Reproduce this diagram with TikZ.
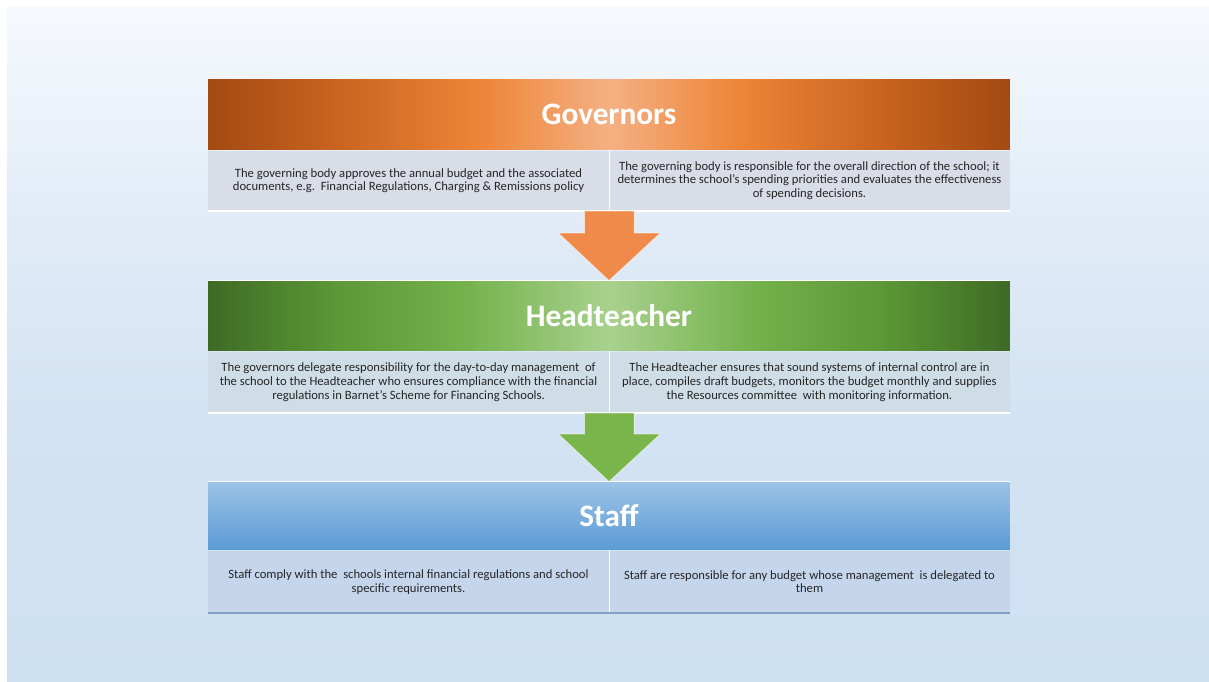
\documentclass[tikz,border=0pt]{standalone}
\usepackage{fontspec}
\setmainfont{Carlito}
\usetikzlibrary{positioning, calc}

\definecolor{textgrey}{HTML}{262626}
\definecolor{govband}{HTML}{D8DDE7}
\definecolor{headband}{HTML}{CFDDE6}
\definecolor{staffband}{HTML}{C4D5EC}
\definecolor{orangearrow}{HTML}{F08A4B}
\definecolor{greenarrow}{HTML}{79B54A}
\definecolor{stafftop}{HTML}{9DC3E6}
\definecolor{staffbottom}{HTML}{5B9BD5}
\definecolor{staffline}{HTML}{82A0C3}
% slide colours
\definecolor{slideA}{HTML}{CDE0F1}
\definecolor{slideB}{HTML}{D3E3F3}
\definecolor{slideC}{HTML}{E2ECF7}
\definecolor{slideD}{HTML}{F6F9FD}
% governors colours
\definecolor{govA}{HTML}{A24A12}
\definecolor{govB}{HTML}{C9631F}
\definecolor{govC}{HTML}{EE8538}
\definecolor{govD}{HTML}{F4B083}
% headteacher colours
\definecolor{headA}{HTML}{3E6A25}
\definecolor{headB}{HTML}{5C9836}
\definecolor{headC}{HTML}{74B24C}
\definecolor{headD}{HTML}{A9D18E}

% shadings of the slide and the title bars
\pgfdeclareverticalshading{slideshade}{100bp}{color(0bp)=(slideA); color(25bp)=(slideA);
  color(45bp)=(slideB); color(60bp)=(slideC); color(75bp)=(slideD); color(100bp)=(slideD)}
\pgfdeclarehorizontalshading{govshade}{100bp}{color(0bp)=(govA); color(25bp)=(govA);
  color(33bp)=(govB); color(42bp)=(govC); color(50bp)=(govD);
  color(58bp)=(govC); color(67bp)=(govB); color(75bp)=(govA); color(100bp)=(govA)}
\pgfdeclarehorizontalshading{headshade}{100bp}{color(0bp)=(headA); color(25bp)=(headA);
  color(33bp)=(headB); color(41bp)=(headC); color(50bp)=(headD);
  color(59bp)=(headC); color(67bp)=(headB); color(75bp)=(headA); color(100bp)=(headA)}

\begin{document}
\begin{tikzpicture}[x=0.02cm, y=-0.02cm,
    titlebar/.style={rectangle, inner sep=0pt, minimum width=16.04cm, text=white,
      font=\fontsize{17.8pt}{19pt}\selectfont\bfseries},
    cell/.style={rectangle, inner sep=0pt, minimum width=8.02cm, align=center, text=textgrey,
      font=\fontsize{7.2pt}{7.9pt}\selectfont},
    blockarrow/.style={draw=white, draw opacity=0.6, line width=0.5pt}
  ]
  \useasboundingbox (0,0) rectangle (1209,682);
  \fill[white] (0,0) rectangle (1209,682);
  \shade[shading=slideshade] (7,7) rectangle (1209,682);

  % Governors
  \node[titlebar, shading=govshade, minimum height=1.42cm] (G0) at (609,114.5) {Governors};
  \node[cell, fill=govband, minimum height=1.2cm, anchor=north west] (G1) at (G0.south west)
    {The governing body approves the annual budget and the associated\\
     documents, e.g.\ \ Financial Regulations, Charging \& Remissions policy};
  \node[cell, fill=govband, minimum height=1.2cm, anchor=north east] (G2) at (G0.south east)
    {The governing body is responsible for the overall direction of the school; it\\
     determines the school’s spending priorities and evaluates the effectiveness\\
     of spending decisions.};

  % Headteacher
  \node[titlebar, shading=headshade, minimum height=1.4cm] (H0) at (609,316) {Headteacher};
  \node[cell, fill=headband, minimum height=1.22cm, anchor=north west] (H1) at (H0.south west)
    {The governors delegate responsibility for the day-to-day management \ of\\
     the school to the Headteacher who ensures compliance with the financial\\
     regulations in Barnet’s Scheme for Financing Schools.};
  \node[cell, fill=headband, minimum height=1.22cm, anchor=north east] (H2) at (H0.south east)
    {The Headteacher ensures that sound systems of internal control are in\\
     place, compiles draft budgets, monitors the budget monthly and supplies\\
     the Resources committee \ with monitoring information.};

  % Staff
  \node[titlebar, top color=stafftop, bottom color=staffbottom, minimum height=1.36cm] (S0) at (609,516) {Staff};
  \node[cell, fill=staffband, minimum height=1.24cm, anchor=north west] (S1) at (S0.south west)
    {Staff comply with the \ schools internal financial regulations and school\\
     specific requirements.};
  \node[cell, fill=staffband, minimum height=1.24cm, anchor=north east] (S2) at (S0.south east)
    {Staff are responsible for any budget whose management \ is delegated to\\
     them};

  % thin edges of the bands
  \draw[white, line width=0.6pt] (G1.north east) -- (G1.south east);
  \draw[white, line width=0.6pt] (H1.north east) -- (H1.south east);
  \draw[white, line width=0.6pt] (S1.north east) -- (S1.south east);
  \draw[white, line width=0.8pt] (G1.south west) -- (G2.south east);
  \draw[white, line width=0.8pt] (H1.south west) -- (H2.south east);
  \draw[white, line width=0.6pt] (H0.north west) -- (H0.north east);
  \draw[white, line width=0.6pt] (S0.north west) -- (S0.north east);
  \draw[staffline, line width=0.8pt] (S1.south west) -- (S2.south east);

  % block arrows
  \filldraw[blockarrow, fill=orangearrow] ($(G1.south east)+(-25,0)$) -- ($(G1.south east)+(25,0)$)
    -- ($(G1.south east)+(25,22)$) -- ($(G1.south east)+(51,22)$) -- (H0.north)
    -- ($(G1.south east)+(-51,22)$) -- ($(G1.south east)+(-25,22)$) -- cycle;
  \filldraw[blockarrow, fill=greenarrow] ($(H1.south east)+(-25,0)$) -- ($(H1.south east)+(25,0)$)
    -- ($(H1.south east)+(25,21)$) -- ($(H1.south east)+(51,21)$) -- (S0.north)
    -- ($(H1.south east)+(-51,21)$) -- ($(H1.south east)+(-25,21)$) -- cycle;
\end{tikzpicture}
\end{document}
